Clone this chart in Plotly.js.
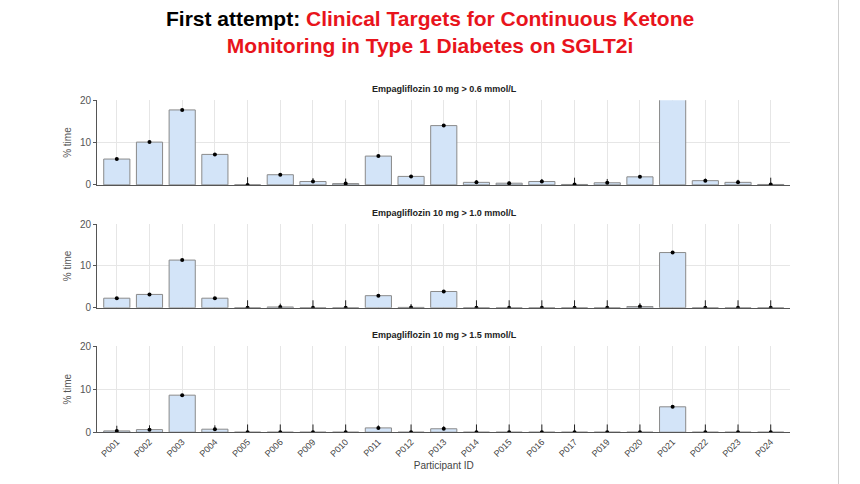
<!DOCTYPE html>
<html><head><meta charset="utf-8">
<script src="https://cdn.plot.ly/plotly-3.0.1.min.js"></script>
<style>body{margin:0;background:#fff}#c{width:860px;height:484px}</style>
</head><body><div id="c"></div>
<script>
const ids = ["P001","P002","P003","P004","P005","P006","P009","P010","P011","P012","P013","P014","P015","P016","P017","P019","P020","P021","P022","P023","P024"];
const v06 = [6.1,10.1,17.7,7.2,0,2.4,0.8,0.3,6.8,2.0,14.0,0.6,0.4,0.8,0.1,0.5,1.9,25,1.0,0.6,0.1];
const v10 = [2.3,3.2,11.4,2.3,0,0.2,0,0,2.9,0.1,3.9,0,0,0,0,0,0.3,13.2,0,0,0];
const v15 = [0.3,0.6,8.6,0.7,0,0,0,0,1.0,0,0.8,0,0,0,0,0,0,5.9,0,0,0];
const err06 = [0,0,0,0,1.8,0,0.8,1.2,0,0,0,0.5,0.4,0.6,1.6,0.9,0,0,0.5,0.6,1.6];
const err10 = [0,0,0,0,1.8,0.8,1.8,1.8,0,0.8,0,1.8,1.8,1.8,1.8,1.8,0.8,0,1.8,1.8,1.8];
const err15 = [1.2,1.0,0,0.9,1.8,1.8,1.8,1.8,0.6,1.8,0.6,1.8,1.8,1.8,1.8,1.8,1.8,0,1.8,1.8,1.8];
const panels = [
  {v:v06, e:err06, t:"Empagliflozin 10 mg > 0.6 mmol/L"},
  {v:v10, e:err10, t:"Empagliflozin 10 mg > 1.0 mmol/L"},
  {v:v15, e:err15, t:"Empagliflozin 10 mg > 1.5 mmol/L"}
];
const doms = [[0.618,0.793],[0.364,0.537],[0.107,0.285]];
const traces = [], annotations = [];
const layout = {
  width:860, height:484, paper_bgcolor:"#fff", plot_bgcolor:"#fff",
  margin:{l:0,r:0,t:0,b:0}, showlegend:false,
  font:{family:"Liberation Sans, Arial", size:9, color:"#444"},
  annotations
};
panels.forEach((p,i)=>{
  const n = i===0 ? "" : String(i+1);
  traces.push({x:ids, y:p.v, type:"bar", xaxis:"x"+n, yaxis:"y"+n, width:0.8,
    marker:{color:"#d3e4f8", line:{color:"#8a8a8a", width:1}}, hoverinfo:"skip"});
  traces.push({x:ids, y:p.v, type:"scatter", mode:"markers", xaxis:"x"+n, yaxis:"y"+n,
    marker:{color:"#000", size:4},
    error_y:{type:"data", array:p.e, arrayminus:p.e.map(()=>0), color:"#222", thickness:1, width:0}});
  layout["xaxis"+n] = {domain:[0.113,0.919], anchor:"y"+n, showgrid:true, gridcolor:"#e6e6e6",
    showline:true, linecolor:"#555", showticklabels:i===2, tickangle:-45,
    tickfont:{size:9,color:"#444"}, range:[-0.6,20.6],
    title:i===2?{text:"Participant ID", font:{size:10,color:"#444"}, standoff:4}:undefined};
  layout["yaxis"+n] = {domain:doms[i], anchor:"x"+n, range:[0,20], tickvals:[0,10,20],
    showgrid:true, gridcolor:"#e6e6e6", showline:true, linecolor:"#555", ticks:"outside", ticklen:3,
    tickcolor:"#555", tickfont:{size:10,color:"#555"}, zeroline:false,
    title:{text:"% time", font:{size:10,color:"#555"}, standoff:6}};
  annotations.push({text:"<b>"+p.t+"</b>", xref:"paper", yref:"paper", x:0.5165, y:doms[i][1]+0.008,
    xanchor:"center", yanchor:"bottom", showarrow:false, font:{size:9,color:"#222"}});
});
annotations.push({text:"<b>First attempt: <span style='color:#e8141c'>Clinical Targets for Continuous Ketone</span></b><br><b><span style='color:#e8141c'>Monitoring in Type 1 Diabetes on SGLT2i</span></b>",
  xref:"paper", yref:"paper", x:0.5, y:0.99, xanchor:"center", yanchor:"top", showarrow:false,
  font:{family:"Liberation Sans, Arial", size:21, color:"#000"}});
layout.shapes = [{type:"line", xref:"paper", yref:"paper", x0:0.975, x1:0.975, y0:0, y1:1, line:{color:"#cfcfcf", width:1}}];
Plotly.newPlot("c", traces, layout, {displayModeBar:false, staticPlot:true});
</script></body></html>
